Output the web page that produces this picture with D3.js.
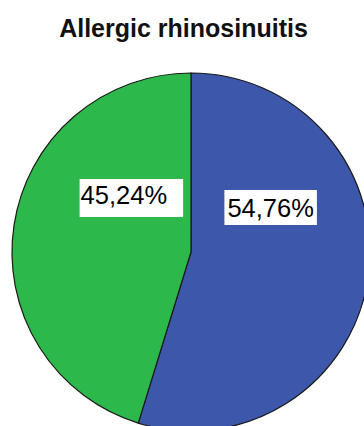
<!DOCTYPE html>
<html>
<head>
<meta charset="utf-8">
<script src="https://cdn.jsdelivr.net/npm/d3@7/dist/d3.min.js"></script>
<style>
  html, body { margin: 0; padding: 0; background: #ffffff; }
  svg { display: block; }
</style>
</head>
<body>
<svg id="chart" width="364" height="426"></svg>
<script>
// Share of patients, drawn clockwise from 12 o'clock
const title = "Allergic rhinosinuitis";
const categories = ["Yes", "No"];
const values = [54.76, 45.24];
const labels = ["54,76%", "45,24%"];
const colors = ["#3D57AA", "#2DB84B"];

const W = 364, H = 426;
const cx = 191, cy = 252, R = 179;

const svg = d3.select("#chart");

svg.append("text")
  .attr("x", 183.5)
  .attr("y", 36.5)
  .attr("text-anchor", "middle")
  .style("font-family", "'Liberation Sans', Arial, sans-serif")
  .style("font-weight", "bold")
  .style("font-size", "25px")
  .attr("fill", "#111")
  .text(title);

const data = categories.map((c, i) => ({ category: c, value: values[i], label: labels[i], color: colors[i] }));

const pie = d3.pie().value(d => d.value).sort(null);
const arc = d3.arc().innerRadius(0).outerRadius(R);
const arcs = pie(data);

const g = svg.append("g").attr("transform", `translate(${cx},${cy})`);

g.selectAll("path.slice")
  .data(arcs)
  .join("path")
  .attr("class", "slice")
  .attr("d", arc)
  .attr("fill", d => d.data.color)
  .attr("stroke", "#1a1a1a")
  .attr("stroke-width", 1.2)
  .attr("stroke-linejoin", "round");

// Label placement: centroid on an inner ring, then lifted toward the top
const labelArc = d3.arc().innerRadius(0).outerRadius(R * 0.9);
const nudge = [[0, -47], [12.5, -36]];
const pad = [
  { l: 3, r: 3, t: 27, b: 8 },
  { l: 1, r: 16, t: 25, b: 13 }
];

arcs.forEach((a, i) => {
  const [x0, y0] = labelArc.centroid(a);
  const lg = g.append("g");
  const t = lg.append("text")
    .style("font-family", "'Liberation Sans', Arial, sans-serif")
    .style("font-size", "25.5px")
    .attr("fill", "#000")
    .text(a.data.label);
  const tw = t.node().getComputedTextLength();
  const ax = x0 + nudge[i][0] - tw / 2;
  const ay = y0 + nudge[i][1];
  t.attr("x", ax).attr("y", ay);
  lg.insert("rect", "text")
    .attr("x", ax - pad[i].l)
    .attr("y", ay - pad[i].t)
    .attr("width", tw + pad[i].l + pad[i].r)
    .attr("height", pad[i].t + pad[i].b)
    .attr("fill", "#ffffff");
});
</script>
</body>
</html>
